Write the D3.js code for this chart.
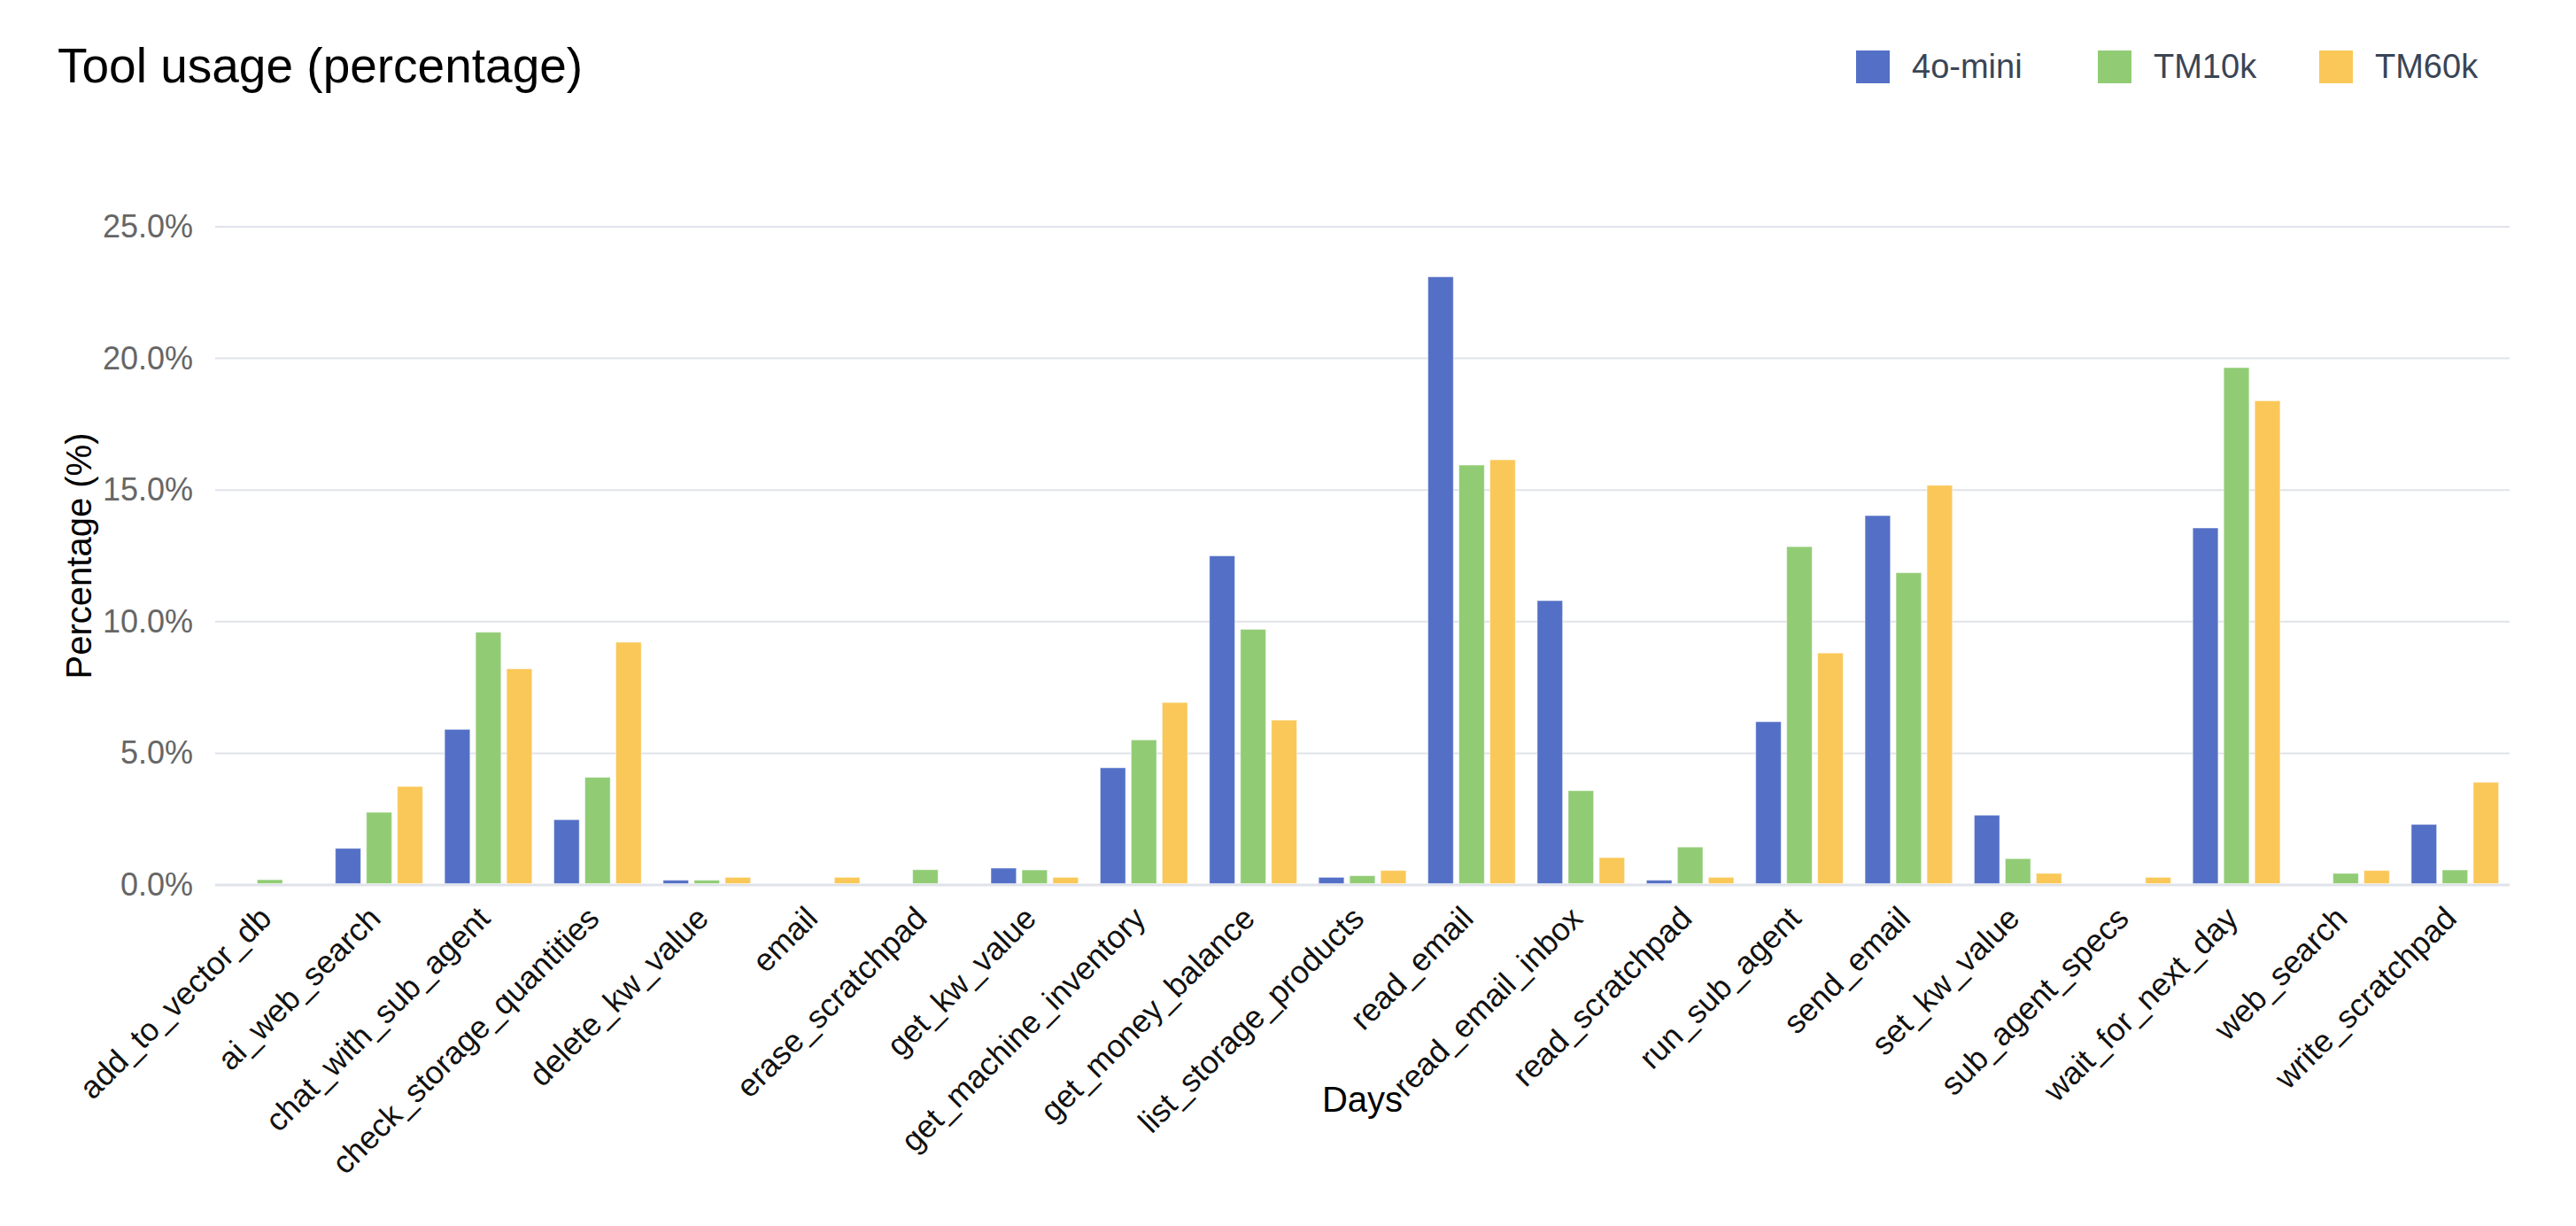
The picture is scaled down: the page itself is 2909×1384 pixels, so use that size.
<!DOCTYPE html>
<html>
<head>
<meta charset="utf-8">
<script src="https://cdn.jsdelivr.net/npm/d3@7"></script>
<style>
  body { margin: 0; background: #fff; }
  svg { display: block; font-family: "Liberation Sans", Arial, sans-serif; }
</style>
</head>
<body>
<svg id="chart" width="2909" height="1384"></svg>
<script>
// tool names on the x axis
var tools = ["add_to_vector_db", "ai_web_search", "chat_with_sub_agent", "check_storage_quantities",
  "delete_kw_value", "email", "erase_scratchpad", "get_kw_value", "get_machine_inventory",
  "get_money_balance", "list_storage_products", "read_email", "read_email_inbox", "read_scratchpad",
  "run_sub_agent", "send_email", "set_kw_value", "sub_agent_specs", "wait_for_next_day",
  "web_search", "write_scratchpad"];

var seriesNames = ["4o-mini", "TM10k", "TM60k"];

// percentages
var mini4o = [0, 1.39, 5.91, 2.48, 0.18, 0, 0, 0.64, 4.45, 12.5, 0.29, 23.1, 10.8, 0.18, 6.2, 14.03, 2.65, 0, 13.56, 0, 2.3];
var tm10k  = [0.2, 2.76, 9.6, 4.09, 0.18, 0, 0.58, 0.57, 5.51, 9.71, 0.35, 15.95, 3.58, 1.44, 12.85, 11.86, 1.0, 0, 19.65, 0.44, 0.57];
var tm60k  = [0, 3.74, 8.21, 9.22, 0.29, 0.29, 0, 0.29, 6.93, 6.26, 0.55, 16.15, 1.04, 0.29, 8.81, 15.18, 0.44, 0.29, 18.39, 0.55, 3.9];

var yTicks = [0, 5, 10, 15, 20, 25];

var colors = ["#5470c6", "#91cc75", "#fac858"];
var allSeries = [mini4o, tm10k, tm60k];

function drawChart(){
	var svg = d3.select("#chart");
	var plotLeft = 243, plotRight = 2834, plotTop = 256, plotBottom = 999;

	var x = d3.scaleBand().domain(tools).range([plotLeft, plotRight]).paddingInner(0).paddingOuter(0);
	var inner = d3.scaleBand().domain(seriesNames)
		.range([0, x.bandwidth() * 0.8]).paddingInner(0.18);
	var groupOffset = x.bandwidth() * 0.1;
	var y = d3.scaleLinear().domain([0, 25]).range([plotBottom, plotTop]);

	// grid
	svg.append("g").selectAll("line").data(yTicks).enter().append("line")
		.attr("x1", plotLeft).attr("x2", plotRight)
		.attr("y1", function(d){ return y(d); }).attr("y2", function(d){ return y(d); })
		.attr("stroke", "#e0e3ea").attr("stroke-width", function(d){ return d === 0 ? 3 : 2; });

	// y axis labels
	var yAxis = d3.axisLeft(y).tickValues(yTicks).tickSize(0).tickPadding(0)
		.tickFormat(function(d){ return d.toFixed(1) + "%"; });
	var yg = svg.append("g").attr("transform", "translate(218,0)").call(yAxis);
	yg.select(".domain").remove();
	yg.selectAll("text").attr("font-size", 36).attr("fill", "#666")
		.attr("font-family", "Liberation Sans, Arial, sans-serif");

	// bars
	var rows = [];
	tools.forEach(function(t, i){
		seriesNames.forEach(function(s, j){
			rows.push({tool: t, series: s, value: allSeries[j][i], color: colors[j]});
		});
	});
	svg.append("g").selectAll("rect").data(rows.filter(function(d){ return d.value > 0; }))
		.enter().append("rect")
		.attr("x", function(d){ return x(d.tool) + groupOffset + inner(d.series); })
		.attr("width", inner.bandwidth())
		.attr("y", function(d){ return y(d.value); })
		.attr("height", function(d){ return plotBottom - 1.5 - y(d.value); })
		.attr("fill", function(d){ return d.color; })
		.attr("stroke", "#ffffff").attr("stroke-opacity", 0.5).attr("stroke-width", 1);

	// x axis labels, rotated
	var xAxis = d3.axisBottom(x).tickSize(0).tickPadding(0);
	var xg = svg.append("g").attr("transform", "translate(0," + plotBottom + ")").call(xAxis);
	xg.select(".domain").remove();
	xg.selectAll("text")
		.attr("font-size", 36).attr("fill", "#111")
		.attr("font-family", "Liberation Sans, Arial, sans-serif")
		.attr("text-anchor", "end")
		.attr("dy", "0.35em")
		.attr("y", 0)
		.attr("transform", "translate(-5,31) rotate(-45)");

	// titles
	svg.append("text").attr("x", 65).attr("y", 93).attr("font-size", 55).attr("fill", "#000")
		.text("Tool usage (percentage)");
	svg.append("text").attr("x", (plotLeft + plotRight) / 2).attr("y", 1255).attr("text-anchor", "middle")
		.attr("font-size", 40).attr("fill", "#000").text("Days");
	svg.append("text").attr("transform", "translate(103," + ((plotTop + plotBottom) / 2) + ") rotate(-90)")
		.attr("text-anchor", "middle").attr("font-size", 40).attr("fill", "#000").text("Percentage (%)");

	// legend
	var legendX = [2096, 2369, 2619];
	var legend = svg.append("g").selectAll("g").data(seriesNames).enter().append("g")
		.attr("transform", function(d, i){ return "translate(" + legendX[i] + ",57)"; });
	legend.append("rect").attr("width", 38).attr("height", 37)
		.attr("fill", function(d, i){ return colors[i]; });
	legend.append("text").attr("x", 63).attr("y", 31).attr("font-size", 38).attr("fill", "#3a4556")
		.text(function(d){ return d; });
}

drawChart();
</script>
</body>
</html>
